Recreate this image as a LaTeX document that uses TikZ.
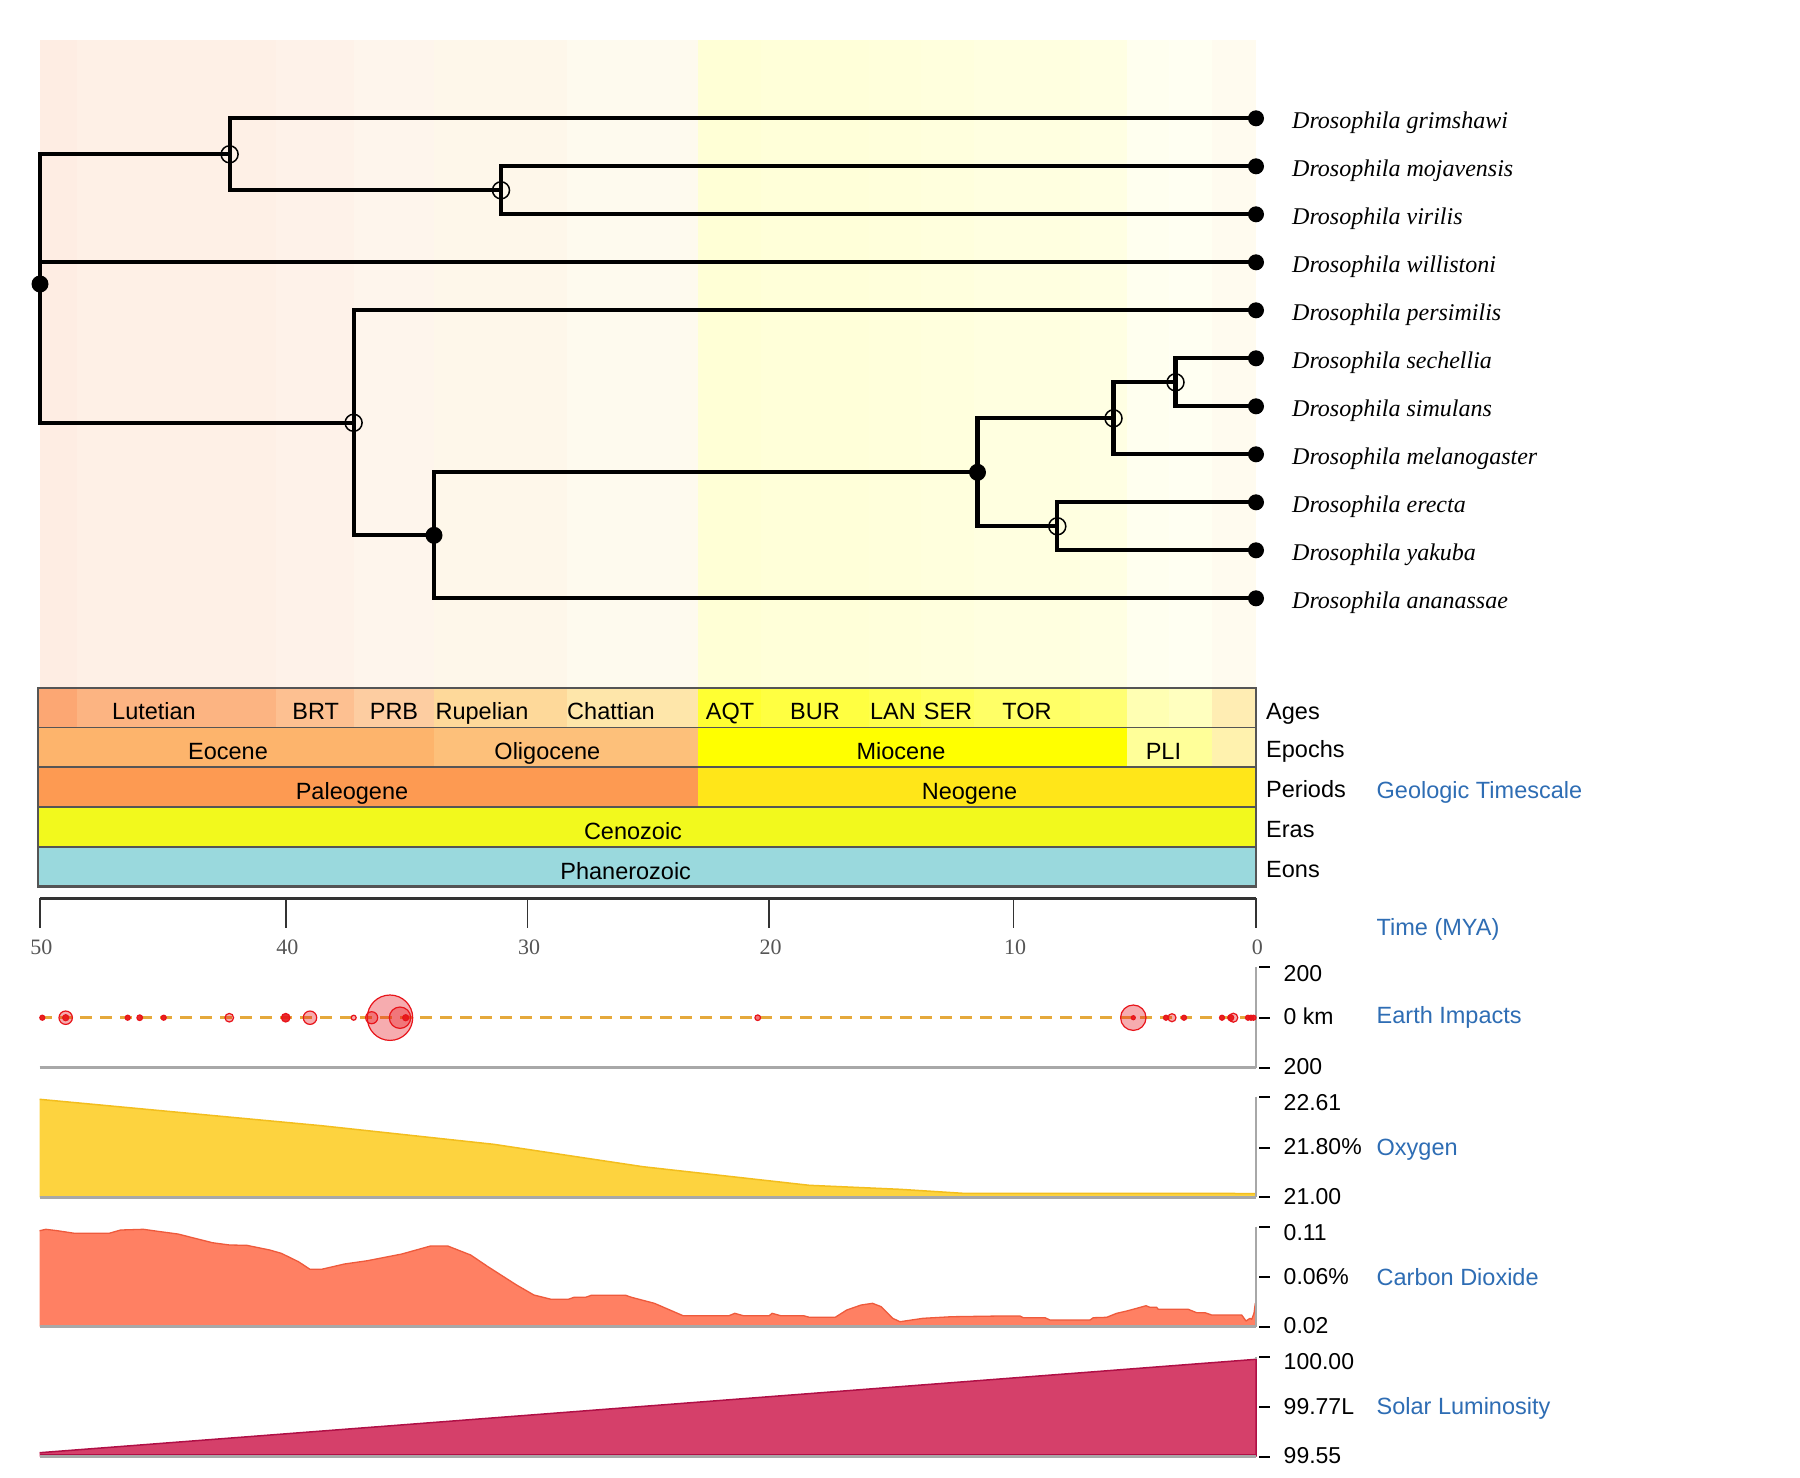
\documentclass[tikz,border=0pt]{standalone}
\usepackage{fontspec}
\setmainfont{Liberation Sans}
\newfontfamily\spfont{Liberation Serif}
\newcommand\fsz{\fontsize{23.5pt}{28pt}\selectfont}
\newcommand\vsz{\fontsize{23pt}{28pt}\selectfont}
\newcommand\spsz{\spfont\itshape\fontsize{24pt}{28pt}\selectfont}
\newcommand\nsz{\spfont\fontsize{22pt}{26pt}\selectfont}
\definecolor{cYpr}{HTML}{FCA773}\definecolor{cLut}{HTML}{FCB482}
\definecolor{cBar}{HTML}{FDC091}\definecolor{cPri}{HTML}{FDCDA1}
\definecolor{cRup}{HTML}{FED99A}\definecolor{cCha}{HTML}{FEE6AA}
\definecolor{cAqu}{HTML}{FFFF33}\definecolor{cBur}{HTML}{FFFF41}
\definecolor{cLan}{HTML}{FFFF4D}\definecolor{cSer}{HTML}{FFFF59}
\definecolor{cTor}{HTML}{FFFF66}\definecolor{cMes}{HTML}{FFFF73}
\definecolor{cZan}{HTML}{FFFFB3}\definecolor{cPia}{HTML}{FFFFBF}
\definecolor{cPle}{HTML}{FFEDB3}\definecolor{ePle}{HTML}{FFF2AE}
\definecolor{cEoc}{HTML}{FDB46C}\definecolor{cOli}{HTML}{FDC07A}
\definecolor{cMio}{HTML}{FFFF00}\definecolor{cPli}{HTML}{FFFF99}
\definecolor{cPaleo}{HTML}{FD9A52}\definecolor{cNeo}{HTML}{FFE619}
\definecolor{cCeno}{HTML}{F2F91D}\definecolor{cPhan}{HTML}{9AD9DD}
\definecolor{boxgray}{HTML}{555555}
\definecolor{axgray}{HTML}{A8A8A8}
\definecolor{lblue}{HTML}{2E6DB4}
\definecolor{impred}{HTML}{E8141A}
\definecolor{dashgold}{HTML}{E5A93C}
\definecolor{oxyfill}{HTML}{FDD33F}
\definecolor{oxyline}{HTML}{F3BE1E}
\definecolor{cofill}{HTML}{FF8063}
\definecolor{coline}{HTML}{EE5A3C}
\definecolor{solfill}{HTML}{D5406A}
\definecolor{solline}{HTML}{B01046}
\definecolor{numgray}{HTML}{555555}
\begin{document}
\begin{tikzpicture}[x=1pt,y=-1pt,
  declare function={tx(\t)=1256-24.25*\t;},
  branch/.style={line width=4.2pt, line cap=rect, line join=miter},
  leafdot/.style={circle, fill=black, inner sep=0pt, minimum size=16pt},
  species/.style={font=\spsz, anchor=base west, inner sep=0pt},
  tslabel/.style={font=\fsz, anchor=base, inner sep=0pt},
  rlabel/.style={font=\fsz, anchor=base west, inner sep=0pt},
  blabel/.style={font=\fsz, anchor=base west, inner sep=0pt, text=lblue},
  vlabel/.style={font=\vsz, anchor=base west, inner sep=0pt},
  ticklabel/.style={font=\nsz, anchor=base, inner sep=0pt, text=numgray},
  opendot/.style={draw=black, line width=1.5pt},
  imp/.style={draw=impred, line width=1.2pt, fill=impred},
  rtick/.style={black, line width=2pt},
  raxis/.style={axgray, line width=2pt},
  baseln/.style={axgray, line width=2.5pt}]
\useasboundingbox (0,0) rectangle (1800,1478);
\fill[white] (0,0) rectangle (1800,1478);
% ---------- tree background (faded ages)
\foreach \a/\b/\c in {50.16/48.6/cYpr,48.6/40.4/cLut,40.4/37.2/cBar,37.2/33.9/cPri,33.9/28.4/cRup,28.4/23.03/cCha,23.03/20.43/cAqu,20.43/15.97/cBur,15.97/13.82/cLan,13.82/11.62/cSer,11.62/7.246/cTor,7.246/5.332/cMes,5.332/3.6/cZan,3.6/1.806/cPia,1.806/0/cPle}
  \fill[\c, opacity=0.2] ({tx(\a)},40) rectangle ({tx(\b)},688);
% ---------- timescale rows
\foreach \a/\b/\c in {50.16/48.6/cYpr,48.6/40.4/cLut,40.4/37.2/cBar,37.2/33.9/cPri,33.9/28.4/cRup,28.4/23.03/cCha,23.03/20.43/cAqu,20.43/15.97/cBur,15.97/13.82/cLan,13.82/11.62/cSer,11.62/7.246/cTor,7.246/5.332/cMes,5.332/3.6/cZan,3.6/1.806/cPia,1.806/0/cPle}
  \fill[\c] ({tx(\a)},688) rectangle ({tx(\b)},727.5);
\foreach \a/\b/\c in {50.16/33.9/cEoc,33.9/23.03/cOli,23.03/5.332/cMio,5.332/1.806/cPli,1.806/0/ePle}
  \fill[\c] ({tx(\a)},727.5) rectangle ({tx(\b)},767);
\fill[cPaleo] (38,767) rectangle ({tx(23.03)},807);
\fill[cNeo] ({tx(23.03)},767) rectangle (1256,807);
\fill[cCeno] (38,807) rectangle (1256,847);
\fill[cPhan] (38,847) rectangle (1256,886.5);
\fill[cYpr] (38,688) rectangle (40,727.5);
\fill[cEoc] (38,727.5) rectangle (40,767);
\foreach \y in {727.5,767,807,847}
  \draw[boxgray, line width=1.2pt] (38,\y) -- (1256,\y);
\draw[boxgray, line width=1.6pt] (38,886.5) -- (38,688) -- (1256,688) -- (1256,886.5);
\draw[boxgray, line width=3pt] (37.2,886.5) -- (1256.8,886.5);
% age labels
\node[tslabel] (lut) at (154,719) {Lutetian};
\node[tslabel] (brt) at (315.7,719) {BRT};
\node[tslabel] (prb) at (394,719) {PRB};
\node[tslabel] (rup) at (482,719) {Rupelian};
\node[tslabel] (cha) at (611,719) {Chattian};
\node[tslabel] (aqt) at (730,719) {AQT};
\node[tslabel] (bur) at (815,719) {BUR};
\node[tslabel] (lan) at (893,719) {LAN};
\node[tslabel] (ser) at (948,719) {SER};
\node[tslabel] (tor) at (1027,719) {TOR};
\node[tslabel] (eoc) at (228,759) {Eocene};
\node[tslabel] (oli) at (547.4,759) {Oligocene};
\node[tslabel] (mio) at (901,759) {Miocene};
\node[tslabel] (pli) at (1163.4,759) {PLI};
\node[tslabel] (pal) at (352,799) {Paleogene};
\node[tslabel] (neo) at (969.5,799) {Neogene};
\node[tslabel] (cen) at (633,839) {Cenozoic};
\node[tslabel] (pha) at (625.7,879) {Phanerozoic};
\node[rlabel] (rAges) at (1266,719) {Ages};
\node[rlabel] (rEpochs) at (1266,757.5) {Epochs};
\node[rlabel] (rPeriods) at (1266,797.5) {Periods};
\node[rlabel] (rEras) at (1266,837) {Eras};
\node[rlabel] (rEons) at (1266,877) {Eons};
\node[blabel] (geo) at (1376.5,798.3) {Geologic Timescale};
% ---------- time axis
\draw[black!80, line width=2.5pt] (39.6,898.3) -- (1256,898.3);
\foreach \t/\xx in {50/40,40/285.9,30/527.6,20/769.2,10/1013.7,0/1255.9}{
  \draw[black!80, line width=1.5pt] (\xx,898.3) -- (\xx,928);
  \node[ticklabel] at (\xx+1.5,954) {\t};
}
\node[blabel] (time) at (1376.5,935) {Time (MYA)};
% ---------- tree
\coordinate (root) at (40,284);
\coordinate (nA) at (229.6,154.3);
\coordinate (nB) at (501,190.3);
\coordinate (nC) at (353.6,422.8);
\coordinate (nD) at (434,535.3);
\coordinate (nE) at (977.5,472.3);
\coordinate (nF) at (1113.5,418.3);
\coordinate (nH) at (1175.5,382.3);
\coordinate (nG) at (1057.3,526.3);
\foreach \n/\y/\s in {grim/118.3/grimshawi,moja/166.3/mojavensis,viri/214.3/virilis,will/262.3/willistoni,pers/310.3/persimilis,sech/358.3/sechellia,simu/406.3/simulans,mela/454.3/melanogaster,erec/502.3/erecta,yaku/550.3/yakuba,anan/598.3/ananassae}{
  \node[leafdot] (\n) at (1256,\y) {};
  \node[species] (t\n) at (1292,\y+10) {Drosophila \s};
}
\draw[branch] (root) |- (nA);
\draw[branch] (root) |- (will);
\draw[branch] (root) |- (nC);
\draw[branch] (nA) |- (grim);
\draw[branch] (nA) |- (nB);
\draw[branch] (nB) |- (moja);
\draw[branch] (nB) |- (viri);
\draw[branch] (nC) |- (pers);
\draw[branch] (nC) |- (nD);
\draw[branch] (nD) |- (nE);
\draw[branch] (nD) |- (anan);
\draw[branch] (nE) |- (nF);
\draw[branch] (nE) |- (nG);
\draw[branch] (nF) |- (nH);
\draw[branch] (nF) |- (mela);
\draw[branch] (nH) |- (sech);
\draw[branch] (nH) |- (simu);
\draw[branch] (nG) |- (erec);
\draw[branch] (nG) |- (yaku);
\foreach \p in {root,nD,nE} \fill[black] (\p) circle[radius=8.5pt];
\foreach \p in {nA,nB,nC,nF,nH,nG} \draw[opendot] (\p) circle[radius=8.5pt];
% ---------- earth impacts
\draw[raxis] (1256,967.3) -- (1256,1067.7);
\draw[baseln] (39.6,1067.7) -- (1256,1067.7);
\draw[dashgold, line width=2.5pt, dash pattern=on 11.7pt off 8.3pt] (40,1017.7) -- (1256,1017.7);
\foreach \x/\r/\o in {42.3/2.5/0.9,65.7/6.7/0.35,65.7/3/0.9,127.7/2.5/0.9,139.7/2.8/0.9,163.7/2.5/0.9,229.3/4.3/0.35,285.7/4.3/0.9,310/6.7/0.35,353.7/2.5/0.35,390/22.7/0.35,371.7/6/0.35,400/10.7/0.35,405.7/3/0.9,757.7/2.8/0.6,1133.3/12.7/0.35,1133.3/2/0.9,1166/2.5/0.9,1172/4/0.35,1184/2.5/0.9,1222/2.5/0.9,1230.7/3/0.9,1233.3/4.5/0.35,1248/2.5/0.9,1251/2.5/0.9,1253.5/2.5/0.9}
  \draw[imp, fill opacity=\o] (\x,1017.7) circle[radius=\r pt];
% ---------- oxygen
\fill[oxyfill] (39.6,1099.3) -- (172,1111.7) -- (321.5,1125.7) -- (493.7,1144.3) -- (643,1166.7) -- (809.4,1185.3) -- (900,1189.3) -- (963,1193.3) -- (1256,1193.5) -- (1256,1197.3) -- (39.6,1197.3) -- cycle;
\draw[oxyline, line width=1.5pt] (39.6,1099.3) -- (172,1111.7) -- (321.5,1125.7) -- (493.7,1144.3) -- (643,1166.7) -- (809.4,1185.3) -- (900,1189.3) -- (963,1193.3) -- (1256,1193.5);
\draw[raxis] (1256,1096.7) -- (1256,1197.3);
\draw[baseln] (39.6,1197.3) -- (1256,1197.3);
% ---------- carbon dioxide
\def\copath{(39.6,1230.7) -- (45.9,1229.3) -- (57.4,1230.7) -- (74.6,1233.3) -- (109.1,1233.3) -- (120.6,1230) -- (143.5,1229.3) -- (160.7,1231.7) -- (178,1234) -- (212.4,1242.7) -- (229.6,1245) -- (246.8,1245.3) -- (269.8,1250) -- (281.3,1253.3) -- (298.5,1261.7) -- (310,1269.3) -- (321.5,1269.3) -- (344.4,1264) -- (367.4,1260.7) -- (401.8,1254) -- (430.5,1246) -- (447.8,1246) -- (470.7,1255) -- (488,1266.7) -- (516.6,1285) -- (533.9,1295) -- (551.1,1299.3) -- (568.3,1299.3) -- (574,1297.3) -- (585.5,1297.3) -- (591.3,1295.3) -- (625.7,1295.3) -- (631.5,1297.3) -- (654.4,1303.3) -- (683.1,1315.7) -- (729,1315.7) -- (734.8,1313.3) -- (743.4,1315.7) -- (769.2,1315.7) -- (772.1,1313.3) -- (780.7,1315.7) -- (803.7,1315.7) -- (809.4,1317.3) -- (835.2,1317.3) -- (846.7,1310) -- (861.1,1305) -- (872.6,1303.3) -- (881.2,1306.7) -- (892.7,1318.3) -- (900,1321.7) -- (923,1318.3) -- (951.7,1316.7) -- (1000,1316) -- (1020,1316) -- (1023.3,1317.7) -- (1045,1317.7) -- (1050,1320) -- (1090,1320) -- (1093.3,1317.7) -- (1106.7,1317.3) -- (1116.7,1313.3) -- (1126.7,1311) -- (1136.7,1308.3) -- (1146,1305.7) -- (1150,1307.3) -- (1156.7,1307.3) -- (1158.3,1309.3) -- (1188.3,1309.3) -- (1191.7,1310.7) -- (1196.7,1312.7) -- (1205,1312.7) -- (1211.7,1315) -- (1241.7,1315) -- (1246,1321) -- (1250,1318.3) -- (1251.7,1319.3) -- (1254,1313.3) -- (1255.3,1303.3) -- (1256,1322)}
\fill[cofill] \copath -- (1256,1326.7) -- (39.6,1326.7) -- cycle;
\draw[coline, line width=1.3pt, line join=round] \copath;
\draw[raxis] (1256,1226.7) -- (1256,1326.7);
\draw[baseln] (39.6,1326.7) -- (1256,1326.7);
% ---------- solar luminosity
\fill[solfill] (39.6,1452.7) -- (1256,1359.3) -- (1256,1456.7) -- (39.6,1456.7) -- cycle;
\draw[solline, line width=1.5pt] (39.6,1452.7) -- (1256,1359.3) -- (1256,1456.7);
\draw[raxis] (1256,1357.3) -- (1256,1359.3);
\draw[baseln] (39.6,1456.7) -- (1256,1456.7);
\draw[solline, line width=1.5pt] (39.6,1454.5) -- (1256,1454.5);
% ---------- right ticks
\foreach \y in {967.3,1017.7,1067.7,1096.7,1147.7,1197.3,1226.7,1277.3,1326.7,1357.3,1407.3,1456.7}
  \draw[rtick] (1259,\y) -- (1270,\y);
\node[vlabel] (i1) at (1283.5,981.7) {200};
\node[vlabel] (i2) at (1283.5,1024) {0 km};
\node[vlabel] (i3) at (1283.5,1074) {200};
\node[vlabel] (o1) at (1283.5,1110.7) {22.61};
\node[vlabel] (o2) at (1283.5,1154.3) {21.80\%};
\node[vlabel] (o3) at (1283.5,1204) {21.00};
\node[vlabel] (c1) at (1283.5,1240) {0.11};
\node[vlabel] (c2) at (1283.5,1284) {0.06\%};
\node[vlabel] (c3) at (1283.5,1333.3) {0.02};
\node[vlabel] (s1) at (1283.5,1369.3) {100.00};
\node[vlabel] (s2) at (1283.5,1414) {99.77L};
\node[vlabel] (s3) at (1283.5,1463.3) {99.55};
\node[blabel] (bImp) at (1376.5,1023.3) {Earth Impacts};
\node[blabel] (bOxy) at (1376.5,1155) {Oxygen};
\node[blabel] (bCO) at (1376.5,1285) {Carbon Dioxide};
\node[blabel] (bSol) at (1376.5,1414) {Solar Luminosity};
\end{tikzpicture}
\end{document}
